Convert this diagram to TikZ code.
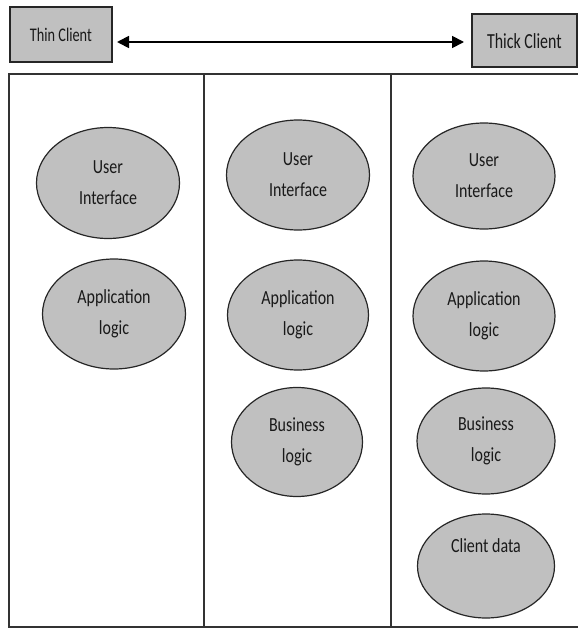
\documentclass[tikz,border=0pt]{standalone}
\usepackage{fontspec}
\setmainfont{Carlito}
\newfontfamily\narrowfont[FakeStretch=0.8]{Carlito}
\newfontfamily\narrowerfont[FakeStretch=0.74]{Carlito}
\usetikzlibrary{shapes.geometric,arrows.meta}
\definecolor{silverfill}{HTML}{C0C0C0}
\tikzset{
  clientbox/.style={draw=black!85, line width=1.8pt, fill=silverfill, inner sep=0pt, anchor=north west},
  layer/.style={ellipse, draw=black!85, line width=1.2pt, fill=silverfill, inner sep=0pt, align=center,
    font=\narrowfont\fontsize{20}{31}\selectfont, text=black!90},
  frame/.style={draw=black!80, line width=1.8pt},
}
\begin{document}
\begin{tikzpicture}[x=1pt,y=-1pt]
\useasboundingbox (0,0) rectangle (578,629);
\clip (0,0) rectangle (578,629);
% client boxes
\node[clientbox, minimum width=102pt, minimum height=55pt] (thin) at (9,6) {};
\node[font=\narrowerfont\fontsize{19.3}{20}\selectfont, text=black!90] (thinlbl) at (thin.center) {Thin Client};
\node[clientbox, minimum width=105pt, minimum height=53pt] (thick) at (471,13) {};
\node[font=\narrowerfont\fontsize{21.5}{22}\selectfont, text=black!90] (thicklbl) at ([yshift=-1pt]thick.center) {Thick Client};
\coordinate (aL) at (117,42);
\coordinate (aR) at (464,42);
\draw[line width=1.8pt, {Triangle[length=12pt,width=12pt]}-{Triangle[length=12pt,width=12pt]}] (aL) -- (aR);
% table frame
\coordinate (tl) at (9,74);
\coordinate (tr) at (590,74);
\coordinate (bl) at (9,627);
\coordinate (br) at (590,627);
\coordinate (d1t) at (204,74);
\coordinate (d1b) at (204,627);
\coordinate (d2t) at (391,74);
\coordinate (d2b) at (391,627);
\draw[frame] (tr) -- (tl) -- (bl) -- (br);
\draw[frame] (d1t) -- (d1b);
\draw[frame] (d2t) -- (d2b);
% column 1
\node[layer, minimum width=143pt, minimum height=111pt] (ui1) at (108,183) {User\\Interface};
\node[layer, minimum width=143pt, minimum height=110pt] (al1) at (114,314) {Application\\logic};
% column 2
\node[layer, minimum width=143pt, minimum height=110pt] (ui2) at (298,175) {User\\Interface};
\node[layer, minimum width=141pt, minimum height=110pt] (al2) at (298,315) {Application\\logic};
\node[layer, minimum width=131pt, minimum height=109pt] (bl2) at (297,442) {Business\\logic};
% column 3
\node[layer, minimum width=142pt, minimum height=106pt] (ui3) at (484,176) {User\\Interface};
\node[layer, minimum width=142pt, minimum height=110pt] (al3) at (484,316) {Application\\logic};
\node[layer, minimum width=138pt, minimum height=106pt] (bl3) at (486,441) {Business\\logic};
\node[layer, minimum width=137pt, minimum height=104pt] (cd3) at (486,566) {Client data\\\strut};
\end{tikzpicture}
\end{document}
